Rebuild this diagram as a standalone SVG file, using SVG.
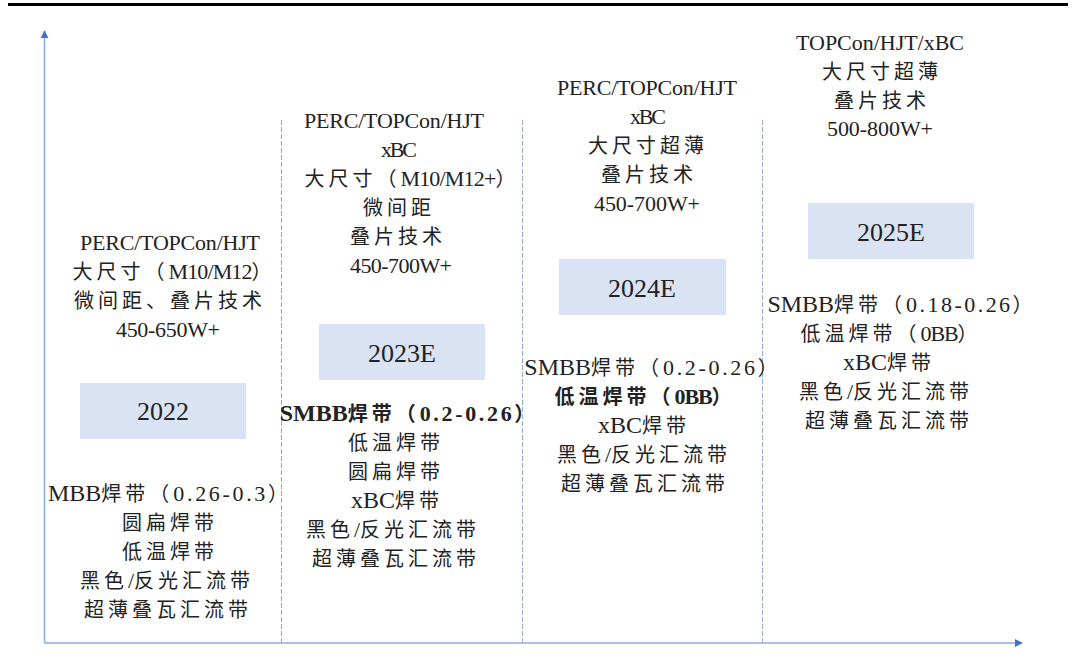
<svg xmlns="http://www.w3.org/2000/svg" width="1074" height="668" viewBox="0 0 1074 668">
<style>
text{fill:#222;text-anchor:middle}
.m{font-family:"Liberation Serif",serif;font-size:22px}
.c{font-family:"Noto Sans CJK SC","Noto Sans",sans-serif;font-size:20px;letter-spacing:4px}
.t{font-family:"Liberation Serif",serif;font-size:24px}
.b{font-weight:bold}
.yr{font-family:"Liberation Serif",serif;font-size:26px}
.box{fill:#DAE3F3}
.sep{stroke:#8FAADC;stroke-width:1;stroke-dasharray:5 2;fill:none}
.axis{stroke:#8FAADC;stroke-width:1.5;fill:none}
</style>
<defs>
<marker id="ah" viewBox="0 0 10 10" refX="9" refY="5" markerWidth="8" markerHeight="8" markerUnits="userSpaceOnUse" orient="auto">
<path d="M0,0 L10,5 L0,10 Z" fill="#4472C4"/>
</marker>
</defs>
<rect x="8" y="3" width="1060" height="3" fill="#000"/>
<g id="separators">
<line class="sep" x1="281.5" y1="120" x2="281.5" y2="643"/>
<line class="sep" x1="522.5" y1="120" x2="522.5" y2="643"/>
<line class="sep" x1="762.5" y1="120" x2="762.5" y2="643"/>
</g>
<g id="connectors">
<line class="axis" x1="44.5" y1="643" x2="44.5" y2="31" marker-end="url(#ah)"/>
<line class="axis" x1="44.5" y1="643" x2="1022" y2="643" marker-end="url(#ah)"/>
</g>
<g id="col2022-top">
<text x="170" y="250"><tspan class="m" textLength="180">PERC/TOPCon/HJT</tspan></text>
<text x="174" y="279"><tspan class="c">大尺寸（</tspan><tspan class="m" textLength="84">M10/M12</tspan><tspan class="c">）</tspan></text>
<text x="170" y="308"><tspan class="c">微间距、叠片技术</tspan></text>
<text x="168" y="337"><tspan class="m" textLength="104">450-650W+</tspan></text>
</g>
<g id="node2022">
<rect class="box" x="80" y="383" width="166" height="56"/>
<text class="yr" x="163" y="420">2022</text>
</g>
<g id="col2022-bottom">
<text x="170" y="501"><tspan class="t">MBB</tspan><tspan class="c">焊带（</tspan><tspan class="m" textLength="92">0.26-0.3</tspan><tspan class="c">）</tspan></text>
<text x="170" y="530"><tspan class="c">圆扁焊带</tspan></text>
<text x="170" y="559"><tspan class="c">低温焊带</tspan></text>
<text x="167" y="588"><tspan class="c">黑色</tspan><tspan class="m" textLength="12">/</tspan><tspan class="c">反光汇流带</tspan></text>
<text x="168" y="617"><tspan class="c">超薄叠瓦汇流带</tspan></text>
</g>
<g id="col2023-top">
<text x="394" y="128"><tspan class="m" textLength="180">PERC/TOPCon/HJT</tspan></text>
<text x="399" y="157"><tspan class="m" textLength="36">xBC</tspan></text>
<text x="412" y="186"><tspan class="c">大尺寸（</tspan><tspan class="m" textLength="96">M10/M12+</tspan><tspan class="c">）</tspan></text>
<text x="399" y="215"><tspan class="c">微间距</tspan></text>
<text x="398" y="244"><tspan class="c">叠片技术</tspan></text>
<text x="401" y="273"><tspan class="m" textLength="102">450-700W+</tspan></text>
</g>
<g id="node2023E">
<rect class="box" x="319" y="324" width="166" height="56"/>
<text class="yr" x="402" y="362">2023E</text>
</g>
<g id="col2023-bottom">
<text class="b" x="409" y="421"><tspan class="t">SMBB</tspan><tspan class="c">焊带（</tspan><tspan class="m" textLength="92">0.2-0.26</tspan><tspan class="c">）</tspan></text>
<text x="396" y="450"><tspan class="c">低温焊带</tspan></text>
<text x="396" y="479"><tspan class="c">圆扁焊带</tspan></text>
<text x="397" y="508"><tspan class="t">xBC</tspan><tspan class="c">焊带</tspan></text>
<text x="393" y="537"><tspan class="c">黑色</tspan><tspan class="m" textLength="12">/</tspan><tspan class="c">反光汇流带</tspan></text>
<text x="396" y="566"><tspan class="c">超薄叠瓦汇流带</tspan></text>
</g>
<g id="col2024-top">
<text x="647" y="95"><tspan class="m" textLength="180">PERC/TOPCon/HJT</tspan></text>
<text x="648" y="124"><tspan class="m" textLength="36">xBC</tspan></text>
<text x="648" y="153"><tspan class="c">大尺寸超薄</tspan></text>
<text x="649" y="182"><tspan class="c">叠片技术</tspan></text>
<text x="647" y="211"><tspan class="m" textLength="106">450-700W+</tspan></text>
</g>
<g id="node2024E">
<rect class="box" x="559" y="259" width="167" height="56"/>
<text class="yr" x="642" y="297">2024E</text>
</g>
<g id="col2024-bottom">
<text x="653" y="375"><tspan class="t">SMBB</tspan><tspan class="c">焊带（</tspan><tspan class="m" textLength="92">0.2-0.26</tspan><tspan class="c">）</tspan></text>
<text class="b" x="645" y="404"><tspan class="c">低温焊带（</tspan><tspan class="m" textLength="38">0BB</tspan><tspan class="c">）</tspan></text>
<text x="644" y="433"><tspan class="t">xBC</tspan><tspan class="c">焊带</tspan></text>
<text x="644" y="462"><tspan class="c">黑色</tspan><tspan class="m" textLength="12">/</tspan><tspan class="c">反光汇流带</tspan></text>
<text x="645" y="491"><tspan class="c">超薄叠瓦汇流带</tspan></text>
</g>
<g id="col2025-top">
<text x="880" y="50"><tspan class="m" textLength="168">TOPCon/HJT/xBC</tspan></text>
<text x="882" y="79"><tspan class="c">大尺寸超薄</tspan></text>
<text x="882" y="108"><tspan class="c">叠片技术</tspan></text>
<text x="880" y="136"><tspan class="m" textLength="106">500-800W+</tspan></text>
</g>
<g id="node2025E">
<rect class="box" x="808" y="203" width="166" height="56"/>
<text class="yr" x="891" y="241">2025E</text>
</g>
<g id="col2025-bottom">
<text x="902" y="312"><tspan class="t">SMBB</tspan><tspan class="c">焊带（</tspan><tspan class="m" textLength="104">0.18-0.26</tspan><tspan class="c">）</tspan></text>
<text x="891" y="341"><tspan class="c">低温焊带（</tspan><tspan class="m" textLength="38">0BB</tspan><tspan class="c">）</tspan></text>
<text x="889" y="370"><tspan class="t">xBC</tspan><tspan class="c">焊带</tspan></text>
<text x="886" y="399"><tspan class="c">黑色</tspan><tspan class="m" textLength="12">/</tspan><tspan class="c">反光汇流带</tspan></text>
<text x="889" y="428"><tspan class="c">超薄叠瓦汇流带</tspan></text>
</g>
</svg>
